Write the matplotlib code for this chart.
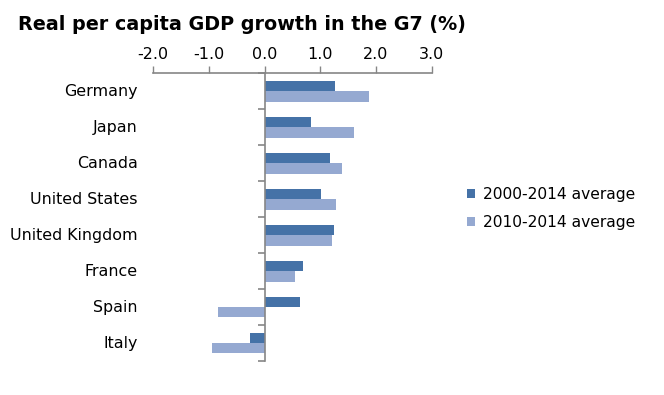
import matplotlib
matplotlib.use("Agg")
import matplotlib.pyplot as plt
import matplotlib.transforms as mtransforms
import numpy as np

categories = ["Germany", "Japan", "Canada", "United States", "United Kingdom",
              "France", "Spain", "Italy"]
avg_2000_2014 = [1.27, 0.84, 1.18, 1.02, 1.25, 0.68, 0.64, -0.26]
avg_2010_2014 = [1.88, 1.61, 1.39, 1.29, 1.21, 0.55, -0.83, -0.94]
series_labels = ["2000-2014 average", "2010-2014 average"]
xticks = [-2.0, -1.0, 0.0, 1.0, 2.0, 3.0]
title = "Real per capita GDP growth in the G7 (%)"

dark = "#4572A7"
light = "#95A9D1"
axis_col = "#868686"

plt.rcParams["font.family"] = ["DejaVu Sans"]

fig = plt.figure(figsize=(6.64, 3.95), dpi=100)
ax = fig.add_axes([153.3 / 664, 1 - 361 / 395, (431.7 - 153.3) / 664, (361 - 73.3) / 395])

n = len(categories)
y = np.arange(n)
h = 0.29
b1 = ax.barh(y - h / 2, avg_2000_2014, height=h, color=dark, label=series_labels[0])
b2 = ax.barh(y + h / 2, avg_2010_2014, height=h, color=light, label=series_labels[1])

ax.set_xlim(-2.0, 3.0)
ax.set_ylim(n - 0.5, -0.5)
ax.set_xticks(xticks)
ax.set_xticklabels([f"{t:.1f}" for t in xticks], fontsize=11.5)
ax.xaxis.tick_top()
ax.tick_params(axis="x", direction="out", length=5, color=axis_col, width=1, pad=3)

# Vertical axis at zero with boundary ticks
ax.spines["left"].set_position(("data", 0))
ax.spines["left"].set_color(axis_col)
ax.spines["left"].set_linewidth(1.2)
ax.spines["top"].set_color(axis_col)
ax.spines["top"].set_linewidth(1.2)
ax.spines["right"].set_visible(False)
ax.spines["bottom"].set_visible(False)
ax.set_yticks(np.arange(n + 1) - 0.5)
ax.set_yticklabels([])
ax.tick_params(axis="y", direction="out", length=5, color=axis_col, width=1.2)

trans = mtransforms.blended_transform_factory(ax.transAxes, ax.transData)
for i, c in enumerate(categories):
    ax.text(-0.055, i, c, transform=trans, ha="right", va="center", fontsize=11.4)

fig.text(18 / 664, 1 - 25 / 395, title, fontsize=13.8, fontweight="bold",
         ha="left", va="center")

leg = fig.legend(handles=[b1, b2], labels=series_labels, loc="upper left",
                 bbox_to_anchor=(461 / 664, 1 - 181 / 395), frameon=False,
                 fontsize=11.2, handlelength=0.5, handleheight=0.5,
                 handletextpad=0.5, labelspacing=0.8, borderaxespad=0)

fig.savefig("out.png", dpi=100)
